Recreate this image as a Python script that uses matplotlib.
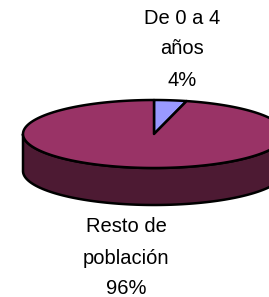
import numpy as np
import matplotlib.pyplot as plt
from matplotlib.patches import Polygon

labels = ['De 0 a 4\naños', 'Resto de\npoblación']
values = [4, 96]
colors = ['#9999FF', '#993366']
side_colors = ['#4D4D80', '#4D1A33']

# geometry of the tilted pie, in pixels
cx, cy = 154, 134
a, b = 131, 34
depth = 37


def rim(t0, t1, n=200):
    # angle measured clockwise from 12 o'clock
    t = np.radians(np.linspace(t0, t1, n))
    return cx + a * np.sin(t), cy - b * np.cos(t)


fig = plt.figure(figsize=(2.69, 2.97), dpi=100)
ax = fig.add_axes([0, 0, 1, 1])
ax.set_xlim(0, 269)
ax.set_ylim(297, 0)
ax.axis('off')

total = sum(values)
bounds = np.concatenate([[0], np.cumsum(values)]) / total * 360

# front wall, only 90..270 deg is visible
for i in range(len(values)):
    t0, t1 = max(bounds[i], 90), min(bounds[i + 1], 270)
    if t1 <= t0:
        continue
    x, y = rim(t0, t1)
    xs = np.concatenate([x, x[::-1]])
    ys = np.concatenate([y, y[::-1] + depth])
    ax.add_patch(Polygon(np.column_stack([xs, ys]), closed=True,
                         fc=side_colors[i], ec='black', lw=1.8, joinstyle='round'))

# top faces
for i in range(len(values)):
    x, y = rim(bounds[i], bounds[i + 1])
    pts = np.column_stack([np.r_[cx, x], np.r_[cy, y]])
    ax.add_patch(Polygon(pts, closed=True, fc=colors[i], ec='black',
                         lw=1.8, joinstyle='round'))

pos = [(182, 49), (126, 258)]
for lab, v, (tx, ty) in zip(labels, values, pos):
    ax.text(tx, ty, f'{lab}\n{v / total * 100:.0f}%', ha='center', va='center',
            fontsize=14.5, family='Liberation Sans', linespacing=1.8)

fig.savefig('out.png', dpi=100)
